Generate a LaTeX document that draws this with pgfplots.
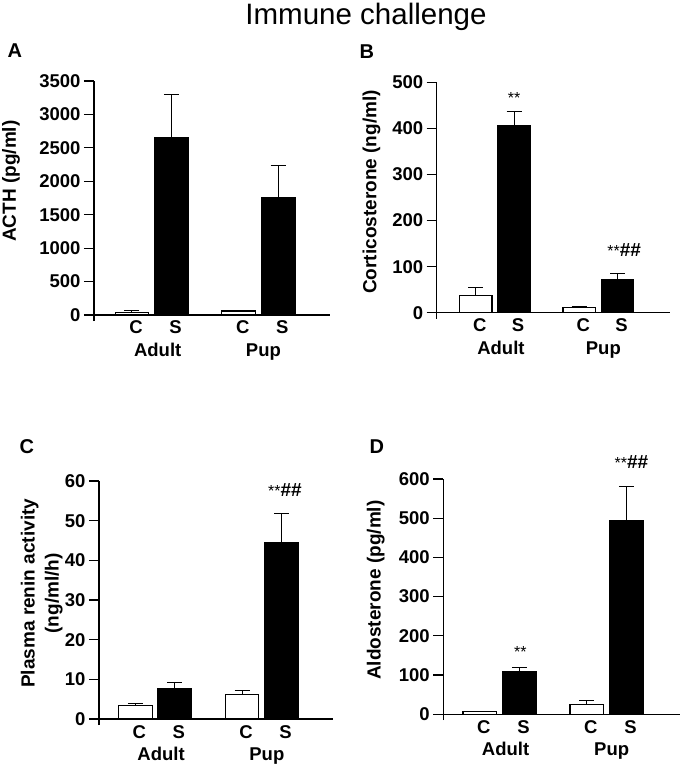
\documentclass[border=0pt]{standalone}
\usepackage{fontspec}
\setmainfont{Liberation Sans}
\usepackage{pgfplots}
\pgfplotsset{compat=1.18}

\pgfplotsset{
  panel/.style={
    scale only axis,
    axis x line=middle,
    axis y line=left,
    axis line style={-, line width=1.2pt},
    hide obscured x ticks=false,
    hide obscured y ticks=false,
    ybar, bar shift=0pt, bar width=0.85,
    xtick={0,1,2.7,3.7},
    xticklabels={C,S,C,S},
    x tick style={draw=none},
    xtick align=inside,
    ytick align=outside,
    major tick length=10pt,
    y tick style={line width=1.2pt, black},
    xticklabel style={anchor=base, yshift=-19pt, xshift=4pt, font=\bfseries\fontsize{18.5}{20}\selectfont},
    yticklabel style={font=\bfseries\fontsize{18.5}{20}\selectfont},
    /pgf/number format/assume math mode=true,
    /pgf/number format/1000 sep={},
    ylabel style={font=\bfseries\fontsize{19}{24}\selectfont, anchor=center, align=center},
    error bars/y dir=plus, error bars/y explicit,
    error bars/error bar style={line width=1pt, black},
    error bars/error mark options={rotate=90, line width=1pt, mark size=7.5pt, black},
    clip=false,
  },
  cbar/.style={fill=white, draw=black, line width=1.2pt},
  sbar/.style={fill=black, draw=black, line width=1.2pt},
}
\newcommand{\grp}{\bfseries\fontsize{18.5}{20}\selectfont}
\newcommand{\stars}{{\fontsize{16}{16}\selectfont **}}
\newcommand{\hashes}{{\bfseries\fontsize{19}{19}\selectfont\#\#}}

\begin{document}
\begin{tikzpicture}
\path[use as bounding box] (0pt,0pt) rectangle (684pt,-769pt);
\node[anchor=base, font=\fontsize{29.5}{31}\selectfont] at (366pt,-24pt) {Immune challenge};
\node[anchor=base west, font=\bfseries\fontsize{20}{22}\selectfont] at (4pt,-57pt) {A};
\node[anchor=base west, font=\bfseries\fontsize{20}{22}\selectfont] at (356pt,-58pt) {B};
\node[anchor=base west, font=\bfseries\fontsize{20}{22}\selectfont] at (16pt,-453pt) {C};
\node[anchor=base west, font=\bfseries\fontsize{20}{22}\selectfont] at (366pt,-453pt) {D};

% Panel A
\begin{axis}[panel, at={(94pt,-321pt)}, anchor=south west, width=236pt, height=240pt,
  xmin=-0.96, xmax=5.01, ymin=-90, ymax=3500, ytick={0,500,...,3500},
  ylabel={ACTH (pg/ml)}, ylabel style={at={(axis description cs:-0.352,0.583)}}]
\addplot[cbar] coordinates {(0,40) +- (0,20) (2.7,60) +- (0,5)};
\addplot[sbar] coordinates {(1,2650) +- (0,652) (3.7,1752) +- (0,483)};
\node[anchor=base, font=\grp, xshift=6pt, yshift=-41.7pt] at (axis cs:0.5,0) {Adult};
\node[anchor=base, font=\grp, xshift=5pt, yshift=-41.7pt] at (axis cs:3.2,0) {Pup};
\end{axis}

% Panel B
\begin{axis}[panel, at={(436.7pt,-318.7pt)}, anchor=south west, width=233.3pt, height=236.4pt,
  xmin=-1.02, xmax=5.07, ymin=-13, ymax=500, ytick={0,100,...,500},
  ylabel={Corticosterone (ng/ml)}, ylabel style={at={(axis description cs:-0.279,0.536)}}]
\addplot[cbar] coordinates {(0,38) +- (0,16) (2.7,11.6) +- (0,2.5)};
\addplot[sbar] coordinates {(1,407) +- (0,29) (3.7,71.6) +- (0,13)};
\node[anchor=base, font=\grp, xshift=6pt, yshift=-41.7pt] at (axis cs:0.5,0) {Adult};
\node[anchor=base, font=\grp, xshift=5pt, yshift=-41.7pt] at (axis cs:3.2,0) {Pup};
\node[anchor=base] at (axis cs:1,455) {\stars};
\node[anchor=base, xshift=6.6pt] at (axis cs:3.7,121.5) {\stars\hashes};
\end{axis}

% Panel C
\begin{axis}[panel, at={(99pt,-725pt)}, anchor=south west, width=234pt, height=244pt,
  xmin=-0.92, xmax=5.0, ymin=-1.5, ymax=60, ytick={0,10,...,60},
  ylabel={Plasma renin activity\\(ng/ml/h)}, ylabel style={at={(axis description cs:-0.245,0.54)}}]
\addplot[cbar] coordinates {(0,3.4) +- (0,0.6) (2.7,6.2) +- (0,1.1)};
\addplot[sbar] coordinates {(1,7.8) +- (0,1.3) (3.7,44.4) +- (0,7.3)};
\node[anchor=base, font=\grp, xshift=6pt, yshift=-41.7pt] at (axis cs:0.5,0) {Adult};
\node[anchor=base, font=\grp, xshift=5pt, yshift=-41.7pt] at (axis cs:3.2,0) {Pup};
\node[anchor=base, xshift=3.3pt] at (axis cs:3.7,56) {\stars\hashes};
\end{axis}

% Panel D
\begin{axis}[panel, at={(443.3pt,-720pt)}, anchor=south west, width=236.7pt, height=241pt,
  xmin=-0.92, xmax=5.05, ymin=-15, ymax=600, ytick={0,100,...,600},
  ylabel={Aldosterone (pg/ml)}, ylabel style={at={(axis description cs:-0.285,0.539)}}]
\addplot[cbar] coordinates {(0,6) +- (0,0) (2.7,25.5) +- (0,10)};
\addplot[sbar] coordinates {(1,108) +- (0,10) (3.7,494) +- (0,87)};
\node[anchor=base, font=\grp, xshift=6pt, yshift=-41.7pt] at (axis cs:0.5,0) {Adult};
\node[anchor=base, font=\grp, xshift=5pt, yshift=-41.7pt] at (axis cs:3.2,0) {Pup};
\node[anchor=base, xshift=1pt] at (axis cs:1,145.5) {\stars};
\node[anchor=base, xshift=5pt] at (axis cs:3.7,628) {\stars\hashes};
\end{axis}
\end{tikzpicture}
\end{document}
